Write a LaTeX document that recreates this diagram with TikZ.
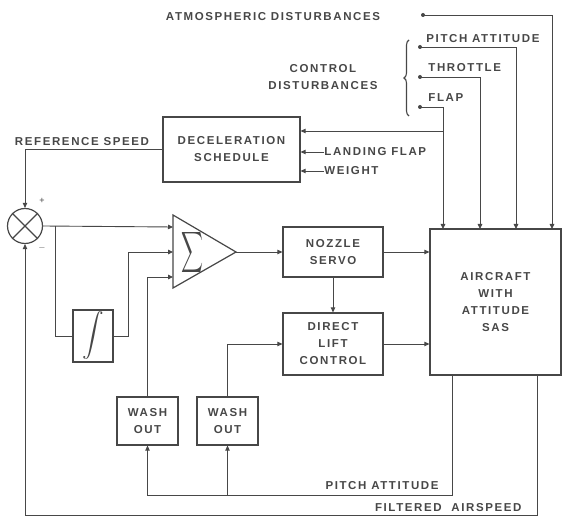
\documentclass[tikz,border=0pt]{standalone}
\usepackage{exscale}
\usepackage{fontspec}
\setmainfont{Liberation Sans}[LetterSpace=14]
\usetikzlibrary{arrows.meta,decorations.pathreplacing}
\begin{document}
\begin{tikzpicture}[x=1pt,y=-1pt,
  color=black!72, line width=0.9pt,
  lbl/.style={font=\fontsize{11.5}{17}\selectfont\bfseries, inner sep=0pt},
  box/.style={draw, line width=1.2pt, align=center, inner sep=0pt,
              font=\fontsize{11.5}{17}\selectfont\bfseries},
  arr/.style={-{Triangle[length=5pt,width=4.5pt]}},
  dotn/.style={circle, fill, inner sep=0pt, minimum size=4pt},
]
\useasboundingbox (0,0) rectangle (563,521);

% blocks
\node[box, minimum width=137pt, minimum height=65pt] (decel) at (231.5,149.5) {DECELERATION\\SCHEDULE};
\node[box, minimum width=100pt, minimum height=50pt] (nozzle) at (333,252) {NOZZLE\\SERVO};
\node[box, minimum width=100pt, minimum height=62pt] (dlc) at (333,344) {DIRECT\\LIFT\\CONTROL};
\node[box, minimum width=131pt, minimum height=146pt] (air) at (495.5,302) {AIRCRAFT\\WITH\\ATTITUDE\\SAS};
\node[box, minimum width=40pt, minimum height=52pt] (integ) at (93,336) {};
\node[inner sep=0pt] (intsym) at (93,336) {\scalebox{1.25}{\fontsize{17.28}{20}\selectfont$\displaystyle\int$}};
\node[box, minimum width=61pt, minimum height=48pt] (wash1) at (147.5,421) {WASH\\OUT};
\node[box, minimum width=61pt, minimum height=48pt] (wash2) at (227.5,421) {WASH\\OUT};
\node[circle, draw, line width=1.2pt, minimum size=35pt, inner sep=0pt] (sum) at (25,226) {};
\draw[line width=1.2pt] (sum.north west) -- (sum.south east) (sum.north east) -- (sum.south west);
\node[inner sep=0pt, font=\small] (plus) at (42,201) {+};
\node[inner sep=0pt, font=\small] (minus) at (42,248) {$-$};

% summer triangle
\coordinate (tA) at (173,215);
\coordinate (tB) at (173,288);
\coordinate (tC) at (236,252);
\draw[line width=1.2pt] (tA) -- (tC) -- (tB) -- cycle;
\node[inner sep=0pt] (sig) at (192,253) {\resizebox{22pt}{30pt}{$\displaystyle\sum$}};
\coordinate (s1) at (173,227);
\coordinate (s2) at (173,252);
\coordinate (s3) at (173,277);

% labels
\node[lbl] (atm) at (273,17) {ATMOSPHERIC DISTURBANCES};
\node[lbl, align=center] (ctl) at (323,77) {CONTROL\\DISTURBANCES};
\node[lbl, anchor=west] (lpa) at (426,39) {PITCH ATTITUDE};
\node[lbl, anchor=west] (lth) at (428,68) {THROTTLE};
\node[lbl, anchor=west] (lfl) at (428,98) {FLAP};
\node[lbl] (lref) at (82,142) {REFERENCE SPEED};
\node[lbl, anchor=west] (llf) at (324,152) {LANDING FLAP};
\node[lbl, anchor=west] (lwt) at (324,171) {WEIGHT};
\node[lbl, anchor=east] (lpb) at (439,486) {PITCH ATTITUDE};
\node[lbl, anchor=east] (lfa) at (522,508) {FILTERED\hspace{5pt} AIRSPEED};

% brace
\draw[line width=1.1pt, decorate, decoration={brace, amplitude=5pt}] (409,116) -- (409,40);

% disturbance sources
\node[dotn] (dA) at (423,15) {};
\node[dotn] (dP) at (420,47) {};
\node[dotn] (dT) at (420,77) {};
\node[dotn] (dF) at (420,107) {};
\coordinate (aF) at (443,229);
\coordinate (aT) at (480,229);
\coordinate (aP) at (516,229);
\coordinate (aA) at (552,229);
\draw[arr] (dA.center) -| (aA);
\draw[arr] (dP.center) -| (aP);
\draw[arr] (dT.center) -| (aT);
\draw[arr] (dF.center) -| (aF);
\coordinate (fb) at (443,131);
\draw[arr] (fb) -- (fb -| decel.east);
\draw[arr] (llf.west) -- (llf.west -| decel.east);
\draw[arr] (lwt.west) -- (lwt.west -| decel.east);

% forward path
\draw[arr] (decel.west) -| (sum.north);
\draw[arr] (sum.east) -- (s1);
\coordinate (b1) at (55,226);
\draw (b1) |- (integ.west);
\draw[arr] (integ.east) -- ++(15,0) |- (s2);
\draw[arr] (wash1.north) |- (s3);
\draw[arr] (tC) -- (tC -| nozzle.west);
\draw[arr] (nozzle.east) -- (nozzle.east -| air.west);
\draw[arr] (nozzle.south) -- (dlc.north);
\draw[arr] (wash2.north) |- (dlc.west);
\draw[arr] (dlc.east) -- (dlc.east -| air.west);

% feedback
\coordinate (pa) at (452,375);
\coordinate (pb) at (147.5,495);
\draw[arr] (pa) |- (pb) -- (wash1.south);
\draw[arr] (wash2.south |- pb) -- (wash2.south);
\coordinate (fa) at (537,375);
\coordinate (fc) at (25,515);
\draw[arr] (fa) |- (fc) -- (sum.south);
\end{tikzpicture}
\end{document}
